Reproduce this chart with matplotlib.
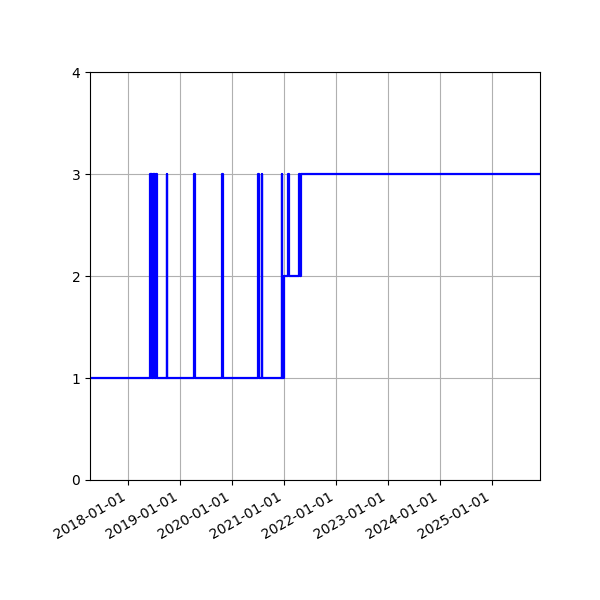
import matplotlib
matplotlib.use('Agg')
import matplotlib.pyplot as plt
import matplotlib.dates as mdates
import numpy as np
from datetime import datetime

# change points (date, level) - level holds until next change
dates = ['2017-03-01',
         '2018-06-03', '2018-06-08', '2018-06-12', '2018-06-20', '2018-06-24',
         '2018-07-01', '2018-07-05', '2018-07-12', '2018-07-16', '2018-07-24',
         '2018-10-01', '2018-10-05',
         '2019-04-10', '2019-04-13',
         '2019-10-24', '2019-10-27',
         '2020-07-04', '2020-07-08',
         '2020-07-27', '2020-08-01',
         '2020-12-14', '2020-12-18', '2020-12-28',
         '2021-01-29', '2021-02-02',
         '2021-04-16', '2021-04-20', '2021-04-27',
         '2026-03-01']
levels = [1,
          3, 1, 3, 1, 3,
          1, 3, 1, 3, 1,
          3, 1,
          3, 1,
          3, 1,
          3, 1,
          3, 1,
          3, 1, 2,
          3, 2,
          3, 2, 3,
          3]

x = [datetime.strptime(d, '%Y-%m-%d') for d in dates]

fig, ax = plt.subplots(figsize=(6, 6), dpi=100)
ax.plot(x, levels, drawstyle='steps-post', color='b', linewidth=1.6)
ax.set_ylim(0, 4)
ax.set_yticks([0, 1, 2, 3, 4])
ax.set_xlim(datetime(2017, 4, 9), datetime(2025, 12, 3))
ax.xaxis.set_major_locator(mdates.YearLocator())
ax.xaxis.set_major_formatter(mdates.DateFormatter('%Y-%m-%d'))
ax.grid()
fig.autofmt_xdate()
fig.subplots_adjust(left=0.15)
plt.savefig('out.png')
